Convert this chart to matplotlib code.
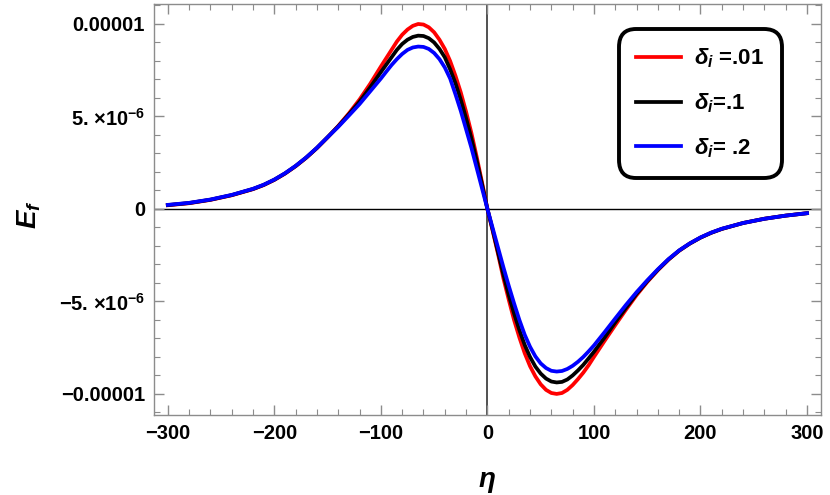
import numpy as np
import matplotlib
matplotlib.use("Agg")
import matplotlib.pyplot as plt
from matplotlib.ticker import MultipleLocator, FixedLocator, FuncFormatter

plt.rcParams['font.family'] = ['Liberation Sans', 'DejaVu Sans']
plt.rcParams['font.weight'] = 'bold'
plt.rcParams['mathtext.fontset'] = 'custom'
plt.rcParams['mathtext.rm'] = 'Liberation Sans:bold'
plt.rcParams['mathtext.it'] = 'Liberation Sans:bold:italic'
plt.rcParams['mathtext.bf'] = 'Liberation Sans:bold'

# values, E_f in units of 1e-5
eta = [-300, -280, -260, -240, -220,
       -210, -200, -190, -180, -170, -160, -150, -140, -130, -120, -110, -100,
       -95, -90, -85, -80, -75, -70, -65, -60, -55, -50, -45, -40, -35, -30, -25, -20, -15, -10, -5,
       0,
       5, 10, 15, 20, 25, 30, 35, 40, 45, 50, 55, 60, 65, 70, 75, 80, 85, 90, 95,
       100, 110, 120, 130, 140, 150, 160, 170, 180, 190, 200, 210, 220,
       240, 260, 280, 300]

ef_001 = [0.020, 0.031, 0.049, 0.074, 0.107,
          0.129, 0.157, 0.191, 0.231, 0.277, 0.329, 0.387, 0.449, 0.517, 0.592, 0.677, 0.770,
          0.815, 0.860, 0.905, 0.942, 0.970, 0.990, 1.000, 0.997, 0.982, 0.955, 0.915, 0.865,
          0.800, 0.720, 0.630, 0.525, 0.410, 0.280, 0.142,
          0.0,
          -0.120, -0.245, -0.375, -0.490, -0.600, -0.695, -0.780, -0.850, -0.905, -0.948,
          -0.978, -0.995, -1.000, -0.995, -0.978, -0.952, -0.920, -0.885, -0.845,
          -0.800, -0.713, -0.628, -0.545, -0.466, -0.395, -0.331, -0.274, -0.226, -0.187,
          -0.155, -0.129, -0.108,
          -0.076, -0.053, -0.036, -0.023]

ef_01 = [0.021, 0.032, 0.050, 0.075, 0.108,
         0.130, 0.158, 0.192, 0.232, 0.278, 0.330, 0.388, 0.447, 0.512, 0.580, 0.658, 0.740,
         0.780, 0.820, 0.860, 0.892, 0.915, 0.930, 0.937, 0.935, 0.923, 0.900, 0.865, 0.820,
         0.755, 0.680, 0.590, 0.490, 0.380, 0.260, 0.132,
         0.0,
         -0.115, -0.235, -0.355, -0.465, -0.565, -0.655, -0.735, -0.800, -0.852, -0.890,
         -0.917, -0.933, -0.938, -0.935, -0.922, -0.900, -0.873, -0.843, -0.808,
         -0.772, -0.695, -0.613, -0.535, -0.459, -0.391, -0.329, -0.273, -0.225, -0.187,
         -0.155, -0.129, -0.108,
         -0.076, -0.053, -0.036, -0.023]

ef_02 = [0.022, 0.033, 0.051, 0.076, 0.109,
         0.131, 0.159, 0.193, 0.233, 0.279, 0.331, 0.388, 0.444, 0.505, 0.567, 0.636, 0.705,
         0.742, 0.778, 0.810, 0.838, 0.860, 0.873, 0.878, 0.876, 0.865, 0.843, 0.810, 0.765,
         0.705, 0.620, 0.530, 0.430, 0.330, 0.220, 0.110,
         0.0,
         -0.105, -0.210, -0.315, -0.415, -0.510, -0.600, -0.680, -0.745, -0.797, -0.835,
         -0.860, -0.875, -0.879, -0.876, -0.865, -0.848, -0.826, -0.800, -0.770,
         -0.738, -0.666, -0.592, -0.519, -0.450, -0.386, -0.326, -0.271, -0.224, -0.186,
         -0.154, -0.128, -0.107,
         -0.076, -0.053, -0.036, -0.023]

labels = [r"$\delta_i$ =.01", r"$\delta_i$=.1", r"$\delta_i$= .2"]
colors = ["#ff0000", "#000000", "#0000ff"]
ytick_vals = [-1e-5, -5e-6, 0, 5e-6, 1e-5]
ytick_text = ["\u22120.00001", "\u22125. \u00d710$^{\u22126}$", "0",
              "5. \u00d710$^{\u22126}$", "0.00001"]

scale = 1e-5
fig = plt.figure(figsize=(8.3, 4.95), dpi=100)
ax = fig.add_axes([0.1855, 0.1616, 0.8035, 0.8303])

for ys, lab, c in zip([ef_001, ef_01, ef_02], labels, colors):
    ax.plot(eta, np.array(ys) * scale, color=c, lw=2.7, label=lab)

ax.axhline(0, color='black', lw=1.0, zorder=0.5)
ax.axvline(0, color='#333333', lw=1.2, zorder=0.5)

ax.set_xlim(-313, 313)
ax.set_ylim(-1.114e-5, 1.108e-5)

ax.xaxis.set_major_locator(MultipleLocator(100))
ax.xaxis.set_minor_locator(MultipleLocator(20))
ax.xaxis.set_major_formatter(FuncFormatter(lambda v, p: ("%d" % v).replace("-", "\u2212")))
ax.yaxis.set_major_locator(FixedLocator(ytick_vals))
ax.yaxis.set_minor_locator(FixedLocator(np.arange(-11, 12) * 1e-6))
ax.set_yticklabels(ytick_text)

gray = '#8c8c8c'
for s in ax.spines.values():
    s.set_color(gray)
    s.set_linewidth(1.0)
ax.tick_params(which='both', direction='in', top=True, right=True, color=gray)
ax.tick_params(which='major', length=7, width=1.0, labelsize=14.5, pad=6.5)
ax.tick_params(which='minor', length=4, width=0.8)

ax.set_xlabel(r"$\eta$", fontsize=20)
ax.set_ylabel(r"$E_f$", fontsize=20)
ax.xaxis.set_label_coords(0.499, -0.132)
ax.yaxis.set_label_coords(-0.166, 0.487)

leg = ax.legend(loc='upper right', bbox_to_anchor=(0.935, 0.9285), borderaxespad=0,
                fontsize=16, handlelength=2.0, handletextpad=0.6, labelspacing=0.95,
                borderpad=0.6, fancybox=True, framealpha=1)
fr = leg.get_frame()
fr.set_edgecolor('black')
fr.set_linewidth(2.8)
fr.set_boxstyle('round,pad=0.2,rounding_size=0.8')

fig.savefig("out.png", dpi=100)
